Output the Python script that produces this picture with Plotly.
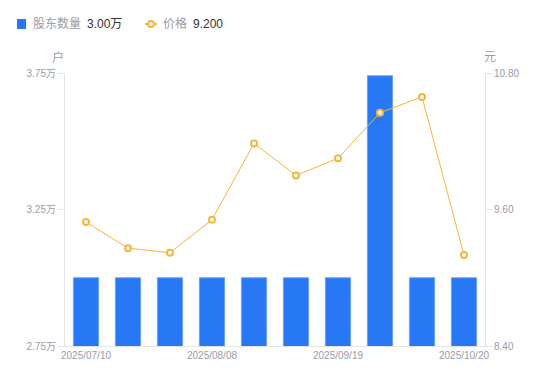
import plotly.graph_objects as go

dates = ["2025/07/10", "2025/07/18", "2025/07/31", "2025/08/08", "2025/08/20",
         "2025/08/29", "2025/09/19", "2025/09/30", "2025/10/10", "2025/10/20"]
holders = [30000, 30000, 30000, 30000, 30000, 30000, 30000, 37400, 30000, 30000]
prices = [9.49, 9.26, 9.22, 9.51, 10.18, 9.90, 10.05, 10.45, 10.59, 9.20]

left_ticks = [27500, 32500, 37500]
left_ticktext = ["2.75万", "3.25万", "3.75万"]
right_ticks = [8.40, 9.60, 10.80]
right_ticktext = ["8.40", "9.60", "10.80"]
x_ticks = ["2025/07/10", "2025/08/08", "2025/09/19", "2025/10/20"]

BLUE = "#2878f5"
ORANGE = "#f7b53b"
GRAY = "#9b9ba8"
DARK = "#333333"
AXIS = "#e3e3e8"
FONT = "Liberation Sans, Noto Sans CJK SC, sans-serif"

fig = go.Figure()
fig.add_trace(go.Bar(x=dates, y=holders, marker=dict(color=BLUE, line=dict(color="#6aa3f8", width=1)),
                     width=0.6, yaxis="y", showlegend=False))
fig.add_trace(go.Scatter(x=dates, y=prices, mode="lines+markers", yaxis="y2", showlegend=False,
                         line=dict(color=ORANGE, width=1),
                         marker=dict(symbol="circle", size=6, color="white",
                                     line=dict(color=ORANGE, width=2))))

L, R, T, B = 65, 65, 73, 35
W, H = 550, 381
pw, ph = W - L - R, H - T - B

def px(x):
    return (x - L) / pw

def py(y):
    return (H - B - y) / ph

fig.update_layout(
    width=W, height=H, margin=dict(l=L, r=R, t=T, b=B),
    plot_bgcolor="white", paper_bgcolor="white",
    font=dict(family=FONT, size=10, color=GRAY),
    bargap=0.4,
    xaxis=dict(type="category", tickmode="array", tickvals=x_ticks, ticktext=x_ticks,
               showline=True, linecolor=AXIS, linewidth=1, ticks="", showgrid=False,
               tickfont=dict(size=10, color=GRAY), range=[-0.5, 9.5]),
    yaxis=dict(range=[27500, 37500], tickmode="array", tickvals=left_ticks, ticktext=left_ticktext,
               showline=True, linecolor=AXIS, linewidth=1, ticks="outside", ticklen=6,
               tickcolor=AXIS, showgrid=False, zeroline=False, tickfont=dict(size=10, color=GRAY)),
    yaxis2=dict(range=[8.40, 10.80], overlaying="y", side="right", tickmode="array",
                tickvals=right_ticks, ticktext=right_ticktext,
                showline=True, linecolor=AXIS, linewidth=1, ticks="outside", ticklen=6,
                tickcolor=AXIS, showgrid=False, zeroline=False, tickfont=dict(size=10, color=GRAY)),
)

def note(x, y, text, color, size=12, xanchor="center"):
    fig.add_annotation(x=px(x), y=py(y), xref="paper", yref="paper", text=text, showarrow=False,
                       xanchor=xanchor, yanchor="middle", font=dict(size=size, color=color))

# Axis unit titles
note(58, 57, "户", GRAY)
note(490, 57, "元", GRAY)

# Legend (manual)
ly = 24
fig.add_shape(type="rect", xref="paper", yref="paper", x0=px(17), x1=px(26), y0=py(29), y1=py(19),
              fillcolor=BLUE, line=dict(width=0))
note(31, ly, "股东数量", GRAY, xanchor="left")
note(85, ly, "3.00万", DARK, xanchor="left")
fig.add_shape(type="line", xref="paper", yref="paper", x0=px(145), x1=px(157), y0=py(ly), y1=py(ly),
              line=dict(color=ORANGE, width=2))
fig.add_shape(type="circle", xref="paper", yref="paper", x0=px(148), x1=px(154), y0=py(27), y1=py(21),
              fillcolor="white", line=dict(color=ORANGE, width=2))
note(161, ly, "价格", GRAY, xanchor="left")
note(191, ly, "9.200", DARK, xanchor="left")

fig.write_html("out.html", config={"displayModeBar": False},
               post_script="document.body.style.margin='0';document.body.style.padding='0';")
